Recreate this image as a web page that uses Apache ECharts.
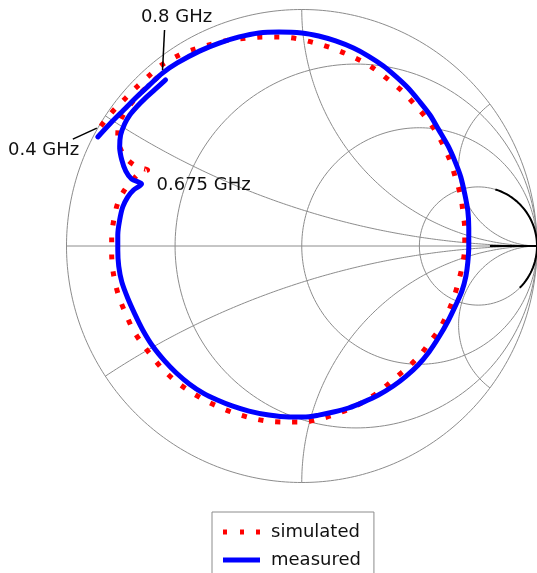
<!DOCTYPE html>
<html>
<head>
<meta charset="utf-8">
<script src="https://cdn.jsdelivr.net/npm/echarts@6/dist/echarts.min.js"></script>
<style>
  html, body { margin: 0; padding: 0; background: #fff; }
  #chart { width: 537px; height: 573px; }
</style>
</head>
<body>
<div id="chart"></div>
<script>
// Reflection coefficient (real, imaginary) traces, 0.4 GHz -> 0.8 GHz
const simulatedRe = [-0.854,-0.824,-0.791,-0.748,-0.702,-0.655,-0.596,-0.520,-0.452,-0.381,-0.309,-0.233,-0.161,-0.089,-0.013,0.059,0.127,0.190,0.262,0.321,0.381,0.431,0.482,0.529,0.571,0.605,0.634,0.655,0.676,0.685,0.693,0.693,0.685,0.668,0.647,0.622,0.588,0.545,0.503,0.452,0.397,0.342,0.283,0.220,0.148,0.080,0.008,-0.068,-0.148,-0.216,-0.288,-0.351,-0.414,-0.478,-0.537,-0.592,-0.638,-0.681,-0.719,-0.748,-0.774,-0.791,-0.803,-0.808,-0.808,-0.799,-0.782,-0.753,-0.719,-0.689,-0.655,-0.698,-0.740,-0.770,-0.782,-0.778,-0.757,-0.727,-0.693,-0.655,-0.617,-0.588];
const simulatedIm = [0.507,0.545,0.583,0.626,0.672,0.715,0.765,0.808,0.833,0.854,0.871,0.879,0.884,0.884,0.875,0.858,0.837,0.812,0.778,0.740,0.693,0.651,0.596,0.541,0.482,0.419,0.351,0.283,0.211,0.144,0.072,0.000,-0.072,-0.144,-0.216,-0.279,-0.347,-0.406,-0.461,-0.512,-0.558,-0.605,-0.647,-0.681,-0.710,-0.731,-0.744,-0.744,-0.740,-0.727,-0.706,-0.681,-0.651,-0.613,-0.571,-0.520,-0.465,-0.410,-0.351,-0.287,-0.224,-0.165,-0.101,-0.034,0.038,0.110,0.182,0.237,0.279,0.309,0.321,0.334,0.364,0.410,0.461,0.512,0.558,0.600,0.638,0.676,0.710,0.740];

const measuredRe = [-0.867,-0.812,-0.757,-0.702,-0.647,-0.592,-0.529,-0.435,-0.351,-0.266,-0.182,-0.097,0.000,0.072,0.144,0.220,0.283,0.347,0.402,0.452,0.499,0.545,0.583,0.622,0.651,0.676,0.693,0.706,0.710,0.710,0.706,0.698,0.681,0.655,0.622,0.583,0.541,0.495,0.444,0.389,0.326,0.262,0.199,0.135,0.072,0.008,-0.055,-0.140,-0.224,-0.296,-0.359,-0.419,-0.478,-0.533,-0.583,-0.634,-0.676,-0.710,-0.740,-0.765,-0.778,-0.782,-0.782,-0.774,-0.761,-0.740,-0.715,-0.681,-0.723,-0.748,-0.765,-0.774,-0.770,-0.753,-0.731,-0.702,-0.668,-0.626,-0.579];
const measuredIm = [0.461,0.520,0.575,0.630,0.681,0.731,0.774,0.824,0.858,0.884,0.901,0.905,0.901,0.888,0.867,0.837,0.803,0.761,0.715,0.668,0.613,0.554,0.490,0.423,0.359,0.292,0.220,0.148,0.076,0.000,-0.068,-0.127,-0.190,-0.249,-0.317,-0.385,-0.448,-0.503,-0.550,-0.592,-0.630,-0.660,-0.685,-0.702,-0.715,-0.723,-0.723,-0.715,-0.698,-0.676,-0.651,-0.622,-0.583,-0.537,-0.486,-0.423,-0.355,-0.287,-0.220,-0.152,-0.085,-0.017,0.047,0.110,0.165,0.207,0.237,0.262,0.283,0.317,0.364,0.419,0.469,0.516,0.554,0.588,0.622,0.660,0.702];

// Smith chart grid values
const resistanceCircles = [0.3, 1, 3];
const reactanceArcs = [0.3, 1, 3, -0.3, -1, -3];
// Dark segment on the r = 3 circle (angles about its centre, degrees) and along the real axis
const darkArcRange = [73, -45];
const darkAxisFrom = 0.80;

// Frequency markers: [label, series, point index]
const markers = [
  ['0.4 GHz', 'simulated', 0],
  ['0.675 GHz', 'measured', 67],
  ['0.8 GHz', 'measured', 78]
];

function zip(re, im) { return re.map((v, i) => [v, im[i]]); }

// z -> gamma = (z - 1) / (z + 1)
function gamma(r, x) {
  const ar = r - 1, br = r + 1;
  const d = br * br + x * x;
  return [(ar * br + x * x) / d, (x * br - ar * x) / d];
}

function arcPts(cx, cy, rad, a0, a1, n) {
  const pts = [];
  for (let i = 0; i <= n; i++) {
    const a = (a0 + (a1 - a0) * i / n) * Math.PI / 180;
    pts.push([cx + rad * Math.cos(a), cy + rad * Math.sin(a)]);
  }
  return pts;
}

function reactancePts(x, n) {
  const pts = [];
  for (let i = 0; i <= n; i++) {
    const s = (Math.PI / 2) * (i / n) * 0.9999;
    pts.push(gamma(Math.tan(s), x));
  }
  return pts;
}

const gridStyle = { color: '#8c8c8c', width: 1 };
const gridSeries = [];
function addGrid(data, style) {
  gridSeries.push({
    type: 'line', data: data, symbol: 'none', silent: true,
    lineStyle: style || gridStyle, z: 1, animation: false, legendHoverLink: false
  });
}
addGrid(arcPts(0, 0, 1, 0, 360, 360));
addGrid([[-1, 0], [1, 0]]);
resistanceCircles.forEach(r => addGrid(arcPts(r / (r + 1), 0, 1 / (r + 1), 0, 360, 240)));
reactanceArcs.forEach(x => addGrid(reactancePts(x, 400)));
// darker strokes near the open-circuit point
const r3 = resistanceCircles[2];
addGrid(arcPts(r3 / (r3 + 1), 0, 1 / (r3 + 1), darkArcRange[0], darkArcRange[1], 80), { color: '#000', width: 2 });
addGrid([[darkAxisFrom, 0], [1, 0]], { color: '#000', width: 2 });

const chart = echarts.init(document.getElementById('chart'), null, { renderer: 'canvas' });

const option = {
  animation: false,
  backgroundColor: '#ffffff',
  grid: { left: 66.5, top: 9.5, width: 473, height: 473, containLabel: false },
  xAxis: { type: 'value', min: -1, max: 1, show: false },
  yAxis: { type: 'value', min: -1, max: 1, show: false },
  legend: {
    data: [
      { name: 'simulated', icon: 'path://M0,0h4v5h-4z M17,0h4v5h-4z M33,0h4v5h-4z' },
      { name: 'measured', icon: 'path://M0,0h37v5h-37z' }
    ],
    orient: 'vertical',
    left: 212, top: 512, height: 80,
    padding: [10, 13, 10, 11],
    itemGap: 8,
    itemWidth: 37, itemHeight: 5,
    borderColor: '#8c8c8c', borderWidth: 1,
    textStyle: { fontFamily: 'DejaVu Sans', fontSize: 18, color: '#111', lineHeight: 20, padding: [0, 0, 0, 6] }
  },
  series: gridSeries.concat([
    {
      name: 'simulated', type: 'line', data: zip(simulatedRe, simulatedIm),
      symbol: 'none', smooth: 0.3, z: 3,
      lineStyle: { color: '#ff0000', width: 5, type: [5, 12], cap: 'butt' },
      itemStyle: { color: '#ff0000' }
    },
    {
      name: 'measured', type: 'line', data: zip(measuredRe, measuredIm),
      symbol: 'none', smooth: 0.3, z: 4,
      lineStyle: { color: '#0000ff', width: 5, cap: 'round' },
      itemStyle: { color: '#0000ff' }
    }
  ])
};
chart.setOption(option);

// Frequency annotations anchored to trace points
const seriesData = { simulated: zip(simulatedRe, simulatedIm), measured: zip(measuredRe, measuredIm) };
const labelFont = '18px "DejaVu Sans"';
const graphics = [];
markers.forEach(([text, s, idx]) => {
  const p = chart.convertToPixel({ gridIndex: 0 }, seriesData[s][idx]);
  if (text === '0.4 GHz') {
    graphics.push({ type: 'line', shape: { x1: p[0] - 4, y1: p[1] + 2, x2: p[0] - 28, y2: p[1] + 13 }, style: { stroke: '#000', lineWidth: 1.5 }, z: 10 });
    graphics.push({ type: 'text', x: 8, y: p[1] + 24, style: { text: text, font: labelFont, fill: '#111', textVerticalAlign: 'middle' }, z: 10 });
  } else if (text === '0.8 GHz') {
    graphics.push({ type: 'line', shape: { x1: p[0] - 3, y1: p[1] - 10, x2: p[0] - 1, y2: p[1] - 50 }, style: { stroke: '#000', lineWidth: 1.5 }, z: 10 });
    graphics.push({ type: 'text', x: p[0] + 11, y: 17, style: { text: text, font: labelFont, fill: '#111', textAlign: 'center', textVerticalAlign: 'middle' }, z: 10 });
  } else {
    graphics.push({ type: 'text', x: p[0] + 15, y: p[1] + 1, style: { text: text, font: labelFont, fill: '#111', textVerticalAlign: 'middle' }, z: 10 });
  }
});
chart.setOption({ graphic: graphics });
</script>
</body>
</html>
